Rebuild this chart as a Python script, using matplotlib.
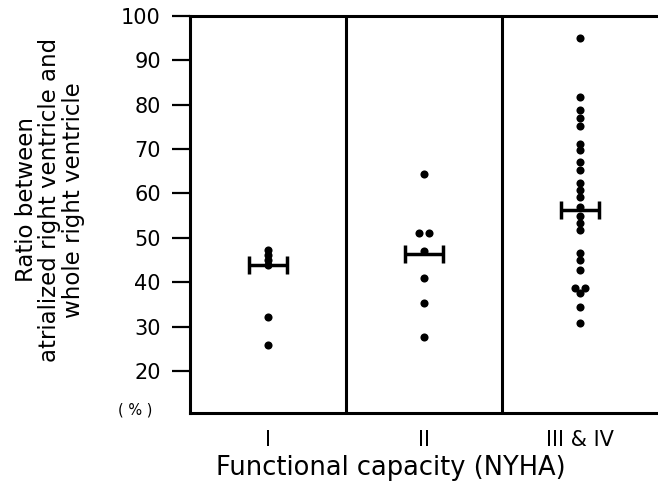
import matplotlib
matplotlib.use("Agg")
import matplotlib.pyplot as plt

plt.rcParams['font.family'] = ['DejaVu Sans']

categories = ["I", "II", "III & IV"]
group_I = [47.3, 46.1, 45.0, 43.9, 32.2, 25.9]
group_I_dx = [0, 0, 0, 0, 0, 0]
group_II = [64.3, 51.0, 51.0, 47.1, 41.0, 35.4, 27.7]
group_II_dx = [0, -0.035, 0.035, 0, 0, 0, 0]
group_III = [95.0, 81.8, 78.8, 77.0, 75.2, 71.2, 69.8, 67.1, 65.3, 62.4, 60.8,
             59.2, 57.0, 54.9, 53.4, 51.8, 46.6, 45.0, 42.8, 38.7, 38.7, 37.6,
             34.4, 30.8]
group_III_dx = [0]*19 + [-0.035, 0.035, 0, 0, 0]
means = [43.9, 46.4, 56.3]
yticks = [20, 30, 40, 50, 60, 70, 80, 90, 100]

fig = plt.figure(figsize=(6.58, 4.91), dpi=100)
ax = fig.add_axes([190/658, 1-413/491, 1-190/658, (413-16)/491])

groups = [group_I, group_II, group_III]
offsets = [group_I_dx, group_II_dx, group_III_dx]
for i, (g, dx) in enumerate(zip(groups, offsets)):
    xs = [i + 1 + d for d in dx]
    ax.scatter(xs, g, s=34, color='black', zorder=3, linewidths=0)
    ax.errorbar(i + 1, means[i], xerr=0.12, fmt='none', ecolor='black',
                elinewidth=2.5, capsize=6.5, capthick=2.5, zorder=4)

for xb in [1.5, 2.5]:
    ax.axvline(xb, color='black', lw=2.2)

ax.set_xlim(0.5, 3.5)
ax.set_ylim(10.5, 100)
ax.set_yticks(yticks)
ax.set_xticks([1, 2, 3])
ax.set_xticklabels(categories, fontsize=15)
ax.tick_params(axis='x', length=0, pad=12)
ax.tick_params(axis='y', length=13, width=1.6, direction='out', labelsize=15, pad=8)
ax.spines['right'].set_visible(False)
for s in ['left', 'top', 'bottom']:
    ax.spines[s].set_linewidth(2.2)

ax.set_xlabel("Functional capacity (NYHA)", fontsize=18.5, labelpad=2)
ax.xaxis.set_label_coords(0.43, -0.105)
fig.text(50/658, 1-200/491, "Ratio between\natrialized right ventricle and\nwhole right ventricle",
         rotation=90, ha='center', va='center', multialignment='center', fontsize=16.5,
         linespacing=1.05)
fig.text(135/658, 1-410/491, "( % )", ha='center', va='center', fontsize=10.5)

fig.savefig("out.png", dpi=100)
